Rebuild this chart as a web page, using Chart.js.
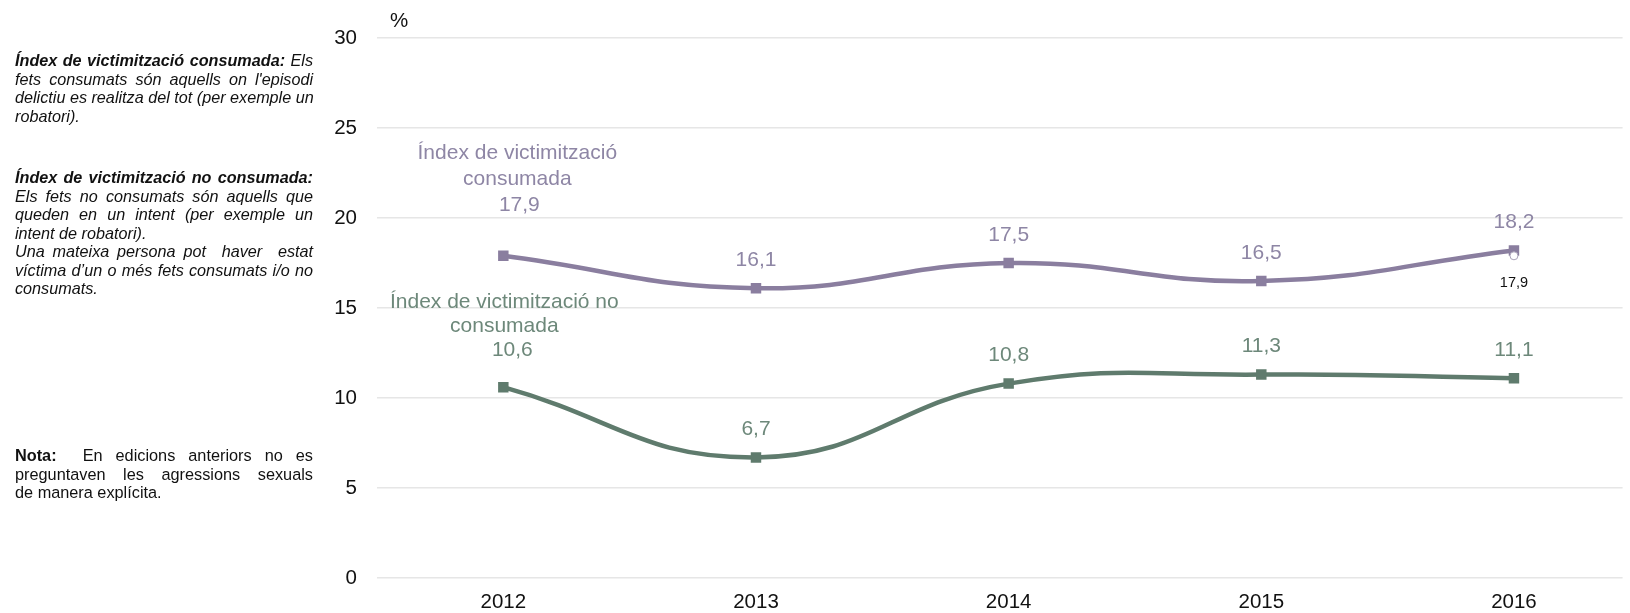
<!DOCTYPE html>
<html>
<head>
<meta charset="utf-8">
<script src="https://cdn.jsdelivr.net/npm/chart.js@4"></script>
<style>
  html, body { margin: 0; padding: 0; background: #fff; }
  #wrap { position: relative; width: 1630px; height: 613px; }
  #chart { position: absolute; left: 0; top: 0; }
  .notes {
    position: absolute; left: 15px; width: 298px;
    font-family: "Liberation Sans", Arial, sans-serif;
    color: #111; line-height: 18.5px;
  }
  .notes div { white-space: nowrap; text-align: left; }
  .notes div.j { text-align: justify; text-align-last: justify; }
  .it { font-style: italic; font-size: 16.2px; }
  .nota { font-size: 16.3px; }
</style>
</head>
<body>
<div id="wrap">
  <canvas id="chart" width="1630" height="613"></canvas>

  <div class="notes it" style="top: 51px;">
    <div class="j"><b>Índex de victimització consumada:</b> Els</div>
    <div class="j">fets consumats són aquells on l'episodi</div>
    <div class="j">delictiu es realitza del tot (per exemple un</div>
    <div>robatori).</div>
  </div>
  <div class="notes it" style="top: 168px;">
    <div class="j"><b>Índex de victimització no consumada:</b></div>
    <div class="j">Els fets no consumats són aquells que</div>
    <div class="j">queden en un intent (per exemple un</div>
    <div>intent de robatori).</div>
    <div class="j">Una mateixa persona pot&nbsp; haver&nbsp; estat</div>
    <div class="j">víctima d’un o més fets consumats i/o no</div>
    <div>consumats.</div>
  </div>
  <div class="notes nota" style="top: 446px;">
    <div class="j"><b>Nota:</b>&nbsp; En edicions anteriors no es</div>
    <div class="j">preguntaven les agressions sexuals</div>
    <div>de manera explícita.</div>
  </div>
</div>

<script>
// --- data ---
const years = [2012, 2013, 2014, 2015, 2016];
const consumada = [17.9, 16.1, 17.5, 16.5, 18.2];
const noConsumada = [10.6, 6.7, 10.8, 11.3, 11.1];
// 2016 value on the previous basis (white marker)
const anterior = [null, null, null, null, 17.9];
const yTicks = [0, 5, 10, 15, 20, 25, 30];

const nameConsumada = ['Índex de victimització', 'consumada'];
const nameNoConsumada = ['Índex de victimització no', 'consumada'];

const FONT = '"Liberation Sans", Arial, sans-serif';
const PURPLE = '#8a7e9f';
const PURPLE_TXT = '#8e86a5';
const GREEN = '#5f7b6d';
const GREEN_TXT = '#6d887a';

function pts(values) {
    return years.map((y, i) => ({ x: y, y: values[i] }));
}

function fmt(v) {
    return v.toFixed(1).replace('.', ',');
}

// draws value labels (and the series names on the first point)
const valueLabels = {
    id: 'valueLabels',
    afterDatasetsDraw(chart) {
        const ctx = chart.ctx;
        ctx.save();
        ctx.textAlign = 'center';
        ctx.textBaseline = 'middle';
        chart.data.datasets.forEach((ds, di) => {
            const meta = chart.getDatasetMeta(di);
            const lab = ds.labelOpts;
            meta.data.forEach((pt, i) => {
                const v = ds.data[i].y;
                if (v === null || v === undefined) return;
                let x = pt.x;
                let y = lab.below ? pt.y + lab.offset : pt.y - lab.offset;
                if (i === 0 && lab.firstShift) {
                    x += lab.firstShift[0];
                    y += lab.firstShift[1];
                }
                ctx.font = lab.font;
                ctx.fillStyle = lab.color;
                ctx.fillText(fmt(v), x, y);
                if (i === 0 && lab.name) {
                    const nx = x + (lab.nameDx || 0);
                    lab.name.slice().reverse().forEach((line, k) => {
                        ctx.fillText(line, nx, y - lab.lineGap * (k + 1));
                    });
                }
            });
        });
        // unit label
        ctx.font = '20.5px ' + FONT;
        ctx.fillStyle = '#111';
        ctx.fillText('%', chart.chartArea.left + 22, 21);
        ctx.restore();
    }
};

const ctx = document.getElementById('chart').getContext('2d');
new Chart(ctx, {
    type: 'line',
    data: {
        datasets: [
            {
                label: 'Índex de victimització consumada',
                data: pts(consumada),
                borderColor: PURPLE,
                backgroundColor: PURPLE,
                borderWidth: 4.5,
                tension: 0.45,
                pointStyle: 'rect',
                pointRadius: 7.4,
                pointBorderWidth: 0,
                order: 1,
                labelOpts: { font: '21px ' + FONT, color: PURPLE_TXT, offset: 28, firstShift: [16, -23], name: nameConsumada, nameDx: -2, lineGap: 26 }
            },
            {
                label: 'Índex de victimització no consumada',
                data: pts(noConsumada),
                borderColor: GREEN,
                backgroundColor: GREEN,
                borderWidth: 4.5,
                tension: 0.45,
                pointStyle: 'rect',
                pointRadius: 7.4,
                pointBorderWidth: 0,
                order: 2,
                labelOpts: { font: '21px ' + FONT, color: GREEN_TXT, offset: 28, firstShift: [9, -9], name: nameNoConsumada, nameDx: -8, lineGap: 24 }
            },
            {
                label: 'anterior',
                data: pts(anterior),
                showLine: false,
                borderColor: '#a9a2b8',
                backgroundColor: '#ffffff',
                pointStyle: 'circle',
                pointRadius: 4,
                pointBorderWidth: 1,
                order: 0,
                labelOpts: { font: '14.5px ' + FONT, color: '#111', offset: 27, below: true }
            }
        ]
    },
    options: {
        responsive: false,
        animation: false,
        layout: { padding: { top: 38, left: 0, right: 0, bottom: 0 } },
        plugins: {
            legend: { display: false },
            tooltip: { enabled: false }
        },
        scales: {
            x: {
                type: 'linear',
                min: 2011.5,
                max: 2016.43,
                afterBuildTicks: (s) => { s.ticks = years.map(v => ({ value: v })); },
                afterFit: (s) => { s.height = 35; },
                grid: { display: false, drawTicks: false },
                border: { display: false },
                ticks: {
                    padding: 12,
                    color: '#111',
                    font: { family: FONT, size: 20.5 },
                    callback: (v) => String(v)
                }
            },
            y: {
                min: 0,
                max: 30,
                afterBuildTicks: (s) => { s.ticks = yTicks.map(v => ({ value: v })); },
                afterFit: (s) => { s.width = 377; },
                grid: { color: '#e6e6e6', lineWidth: 1.5, drawTicks: false },
                border: { display: false },
                ticks: {
                    padding: 20,
                    color: '#111',
                    font: { family: FONT, size: 20.5 }
                }
            }
        }
    },
    plugins: [valueLabels]
});
</script>
</body>
</html>
